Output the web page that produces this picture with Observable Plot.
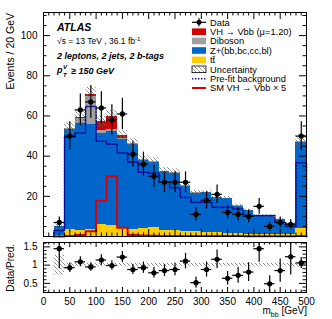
<!DOCTYPE html>
<html><head><meta charset="utf-8">
<script src="https://cdn.jsdelivr.net/npm/d3@7"></script>
<script src="https://cdn.jsdelivr.net/npm/@observablehq/plot@0.6"></script>
<style>
body{margin:0;background:#fff;}
#c{position:relative;width:332px;height:319px;font-family:"Liberation Sans",Arial,Helvetica,sans-serif;}
#c svg{position:absolute;left:0;overflow:visible;}
</style></head><body><div id="c"></div>
<script>
// ---- data ----
const binEdges = [20,40,60,80,100,120,140,160,180,200,220,240,260,280,300,320,340,360,380,400,420,440,460,480,500];
const dataCounts = [7,50,63,67,64,58,61,41,36,30,27,27,27,11,18,21,12,11,10,15,5,7,6,50];
const ttbar   = [0.3,3.5,3,3.5,6,5.5,4,3.5,4,4.5,3,3,2.5,2.5,2,2,1.5,1.5,1.2,1.2,1,1,0.8,4];
const zhf     = [4.5,50,53.3,52.3,45.3,46.9,44.5,42.3,33.9,32.5,29.2,28.6,22.4,19.1,19.7,17.2,17.3,13.6,11.7,9.1,9.3,7.4,5.6,42.9];
const diboson = [0.2,0.5,2.5,14,1.7,0.8,0.5,0.4,0.4,0.4,0.3,0.3,0.3,0.3,0.2,0.2,0.2,0.2,0.1,0.1,0.1,0.1,0.1,0.5];
const vhSig   = [0,0,0.2,1,4,6.6,1.2,0.3,0.2,0.1,0.1,0.1,0,0,0,0,0,0,0,0,0,0,0,0.1];
const prefit  = [3,49.5,51.5,64.7,47.4,46,41.6,37,32,31.5,27,24.3,19.4,17,17,14.5,14.5,13.7,10.4,10.4,10.4,7,5,36.7];
const smVH5   = [0,0.3,0.8,2.6,17.8,30,4.3,0.8,0.5,0.4,0.3,0.3,0.3,0.2,0.2,0.2,0.2,0.2,0.1,0.1,0.1,0.1,0.1,0.3];
const ratio   = [1.45,0.93,1.09,0.95,1.14,0.99,1.22,0.88,0.93,0.79,0.85,0.88,1.11,0.52,0.88,1.16,0.64,0.72,0.81,1.45,0.49,0.85,1.23,1.06];
const uncRel  = [0.28,0.05,0.05,0.05,0.05,0.05,0.05,0.05,0.05,0.05,0.05,0.05,0.05,0.05,0.05,0.05,0.05,0.05,0.05,0.05,0.05,0.05,0.05,0.07];
const xTickLabels = [0,50,100,150,200,250,300,350,400,450,500];
const yTickLabels = [20,40,60,80,100];
const rTickLabels = [0.5,1,1.5];

const colors = {tt:"#ffcc00", z:"#0066cc", vv:"#a0a0a0", vh:"#d00000", prefit:"#0a0a96", sm:"#dd0000"};

// ---- build table ----
const bins = dataCounts.map((d,i) => {
  const lo = binEdges[i], hi = binEdges[i+1];
  const c1 = ttbar[i], c2 = c1 + zhf[i], c3 = c2 + diboson[i], c4 = c3 + vhSig[i];
  return {lo, hi, c:(lo+hi)/2, data:d, c1, c2, c3, c4, unc:uncRel[i], ratio:ratio[i]};
});
function steps(vals){
  const pts = [{x:binEdges[0], y:0}];
  vals.forEach((v,i)=>{ pts.push({x:binEdges[i], y:v}); pts.push({x:binEdges[i+1], y:v}); });
  pts.push({x:binEdges[binEdges.length-1], y:0});
  return pts;
}

const W = 332, mL = 43, mR = 26, innerW = W - mL - mR;
const mainH = 240, mT = 12, mB = 4, innerH = mainH - mT - mB;
const rH = 83, rT = 6, rB = 27, rInner = rH - rT - rB;
const font = "Liberation Sans, Arial, Helvetica, sans-serif";

function ticksY(major, minor, inner){
  return [
    Plot.tickY(major, {y:d=>d, insetRight: inner - 7, stroke:"black"}),
    Plot.tickY(major, {y:d=>d, insetLeft: inner - 7, stroke:"black"}),
    Plot.tickY(minor, {y:d=>d, insetRight: inner - 3.5, stroke:"black"}),
    Plot.tickY(minor, {y:d=>d, insetLeft: inner - 3.5, stroke:"black"})
  ];
}
function ticksX(major, minor, inner, mj=7, mn=3.5){
  return [
    Plot.tickX(major, {x:d=>d, insetTop: inner - mj, stroke:"black"}),
    Plot.tickX(major, {x:d=>d, insetBottom: inner - mj, stroke:"black"}),
    Plot.tickX(minor, {x:d=>d, insetTop: inner - mn, stroke:"black"}),
    Plot.tickX(minor, {x:d=>d, insetBottom: inner - mn, stroke:"black"})
  ];
}
const xMinor = d3.range(0, 501, 10).filter(v => v % 50 !== 0);
const yMajorAll = [0,20,40,60,80,100];
const yMinor = d3.range(0, 111, 5).filter(v => v % 20 !== 0);
const rMinor = d3.range(0.3, 1.61, 0.1).map(v=>+v.toFixed(2)).filter(v => ![0.5,1,1.5].includes(v));

const crisp = {shapeRendering:"crispEdges"};
const main = Plot.plot({
  width: W, height: mainH, marginLeft: mL, marginRight: mR, marginTop: mT, marginBottom: mB,
  x: {domain:[0,500], axis:null}, y: {domain:[0,111.5], axis:null},
  style: {fontFamily: font, fontSize:"10px", background:"transparent", color:"black"},
  marks: [
    Plot.rect(bins, {x1:"lo", x2:"hi", y1:0, y2:"c1", fill:colors.tt, ...crisp}),
    Plot.rect(bins, {x1:"lo", x2:"hi", y1:"c1", y2:"c2", fill:colors.z, ...crisp}),
    Plot.rect(bins, {x1:"lo", x2:"hi", y1:"c2", y2:"c3", fill:colors.vv, ...crisp}),
    Plot.rect(bins, {x1:"lo", x2:"hi", y1:"c3", y2:"c4", fill:colors.vh, ...crisp}),
    Plot.rect(bins, {x1:"lo", x2:"hi", y1:d=>d.c4*(1-d.unc), y2:d=>d.c4*(1+d.unc), fill:"url(#hatchM)"}),
    Plot.line(steps(prefit), {x:"x", y:"y", stroke:colors.prefit, strokeWidth:1.6, strokeDasharray:"1.4,1.6"}),
    Plot.line(steps(smVH5), {x:"x", y:"y", stroke:colors.sm, strokeWidth:2}),
    Plot.ruleX(bins, {x:"c", y1:d=>d.data-Math.sqrt(d.data), y2:d=>d.data+Math.sqrt(d.data), stroke:"black", strokeWidth:1.2, clip:true}),
    Plot.ruleY(bins, {y:"data", x1:"lo", x2:"hi", stroke:"black", strokeWidth:1.2}),
    Plot.dot(bins, {x:"c", y:"data", r:2.6, fill:"black", stroke:"none"}),
    ...ticksY(yMajorAll, yMinor, innerW),
    ...ticksX(xTickLabels, xMinor, innerH),
    Plot.axisY(yTickLabels, {tickSize:0, tickPadding:6, label:null, fontSize:10}),
    Plot.frame({stroke:"black", strokeWidth:1})
  ]
});
main.style.top = "0px";

const rp = Plot.plot({
  width: W, height: rH, marginLeft: mL, marginRight: mR, marginTop: rT, marginBottom: rB,
  x: {domain:[0,500], axis:null}, y: {domain:[0.25,1.62], axis:null},
  style: {fontFamily: font, fontSize:"10px", background:"transparent", color:"black"},
  marks: [
    Plot.rect(bins, {x1:"lo", x2:"hi", y1:d=>1-d.unc, y2:d=>1+d.unc, fill:"url(#hatchR)"}),
    Plot.ruleX(bins, {x:"c", y1:d=>d.ratio-d.ratio/Math.sqrt(d.data), y2:d=>d.ratio+d.ratio/Math.sqrt(d.data), stroke:"black", strokeWidth:1.2, clip:true}),
    Plot.ruleY(bins, {y:"ratio", x1:"lo", x2:"hi", stroke:"black", strokeWidth:1.2}),
    Plot.dot(bins, {x:"c", y:"ratio", r:2.6, fill:"black", stroke:"none"}),
    ...ticksY(rTickLabels, rMinor, innerW),
    ...ticksX(xTickLabels, xMinor, rInner, 5, 2.5),
    Plot.axisY(rTickLabels, {tickSize:0, tickPadding:6, label:null, fontSize:10, tickFormat:d=>String(d)}),
    Plot.axisX(xTickLabels, {tickSize:0, tickPadding:5, label:null, fontSize:10, tickFormat:d=>String(d)}),
    Plot.frame({stroke:"black", strokeWidth:1})
  ]
});
rp.style.top = "236px";

function addHatch(svg, id){
  const ns = "http://www.w3.org/2000/svg";
  const defs = document.createElementNS(ns, "defs");
  defs.innerHTML = `<pattern id="${id}" patternUnits="userSpaceOnUse" width="4" height="4">
    <path d="M-1,-1 L1,1 M0,0 L4,4 M3,3 L5,5" stroke="#6a6a6a" stroke-width="0.55"/></pattern>`;
  svg.insertBefore(defs, svg.firstChild);
}
addHatch(main, "hatchM");
addHatch(rp, "hatchR");

const root = document.getElementById("c");
root.appendChild(main);
root.appendChild(rp);

// ---- annotations & legend overlay ----
const ov = d3.select(root).append("svg").attr("width", W).attr("height", 319)
  .style("top","0px").style("pointer-events","none").attr("font-family", font);

ov.append("text").attr("transform","translate(13.5,13) rotate(-90)").attr("text-anchor","end")
  .attr("font-size",10.5).text("Events / 20 GeV");
ov.append("text").attr("transform","translate(13.5,244) rotate(-90)").attr("text-anchor","end")
  .attr("font-size",10).text("Data/Pred.");
const xt = ov.append("text").attr("x",307).attr("y",314).attr("text-anchor","end").attr("font-size",10);
xt.append("tspan").text("m");
xt.append("tspan").attr("font-size",7).attr("dy",2.5).text("bb");
xt.append("tspan").attr("dy",-2.5).text(" [GeV]");

ov.append("text").attr("x",57).attr("y",30.7).attr("font-size",10.5).attr("font-weight","bold").attr("font-style","italic").text("ATLAS");
const rs = ov.append("text").attr("x",57).attr("y",44).attr("font-size",8.5);
rs.append("tspan").text("√s = 13 TeV , 36.1 fb");
rs.append("tspan").attr("font-size",6).attr("dy",-3.5).text("-1");
ov.append("text").attr("x",57).attr("y",59).attr("font-size",9).attr("font-weight","bold").attr("font-style","italic").text("2 leptons, 2 jets, 2 b-tags");
const g = ov.append("g").attr("font-size",9).attr("font-weight","bold").attr("font-style","italic");
g.append("text").attr("x",57).attr("y",73).text("p");
g.append("text").attr("x",63).attr("y",68.5).attr("font-size",6).text("V");
g.append("text").attr("x",63).attr("y",76.5).attr("font-size",6).text("T");
g.append("text").attr("x",71).attr("y",74).text("≥ 150 GeV");

// legend
const lx0 = 192, lx1 = 206, tx = 210, fs = 9.3;
const rows = [
  {y:22.3, label:"Data", kind:"data"},
  {y:31.7, label:"VH → Vbb (μ=1.20)", kind:"box", color:colors.vh},
  {y:41.0, label:"Diboson", kind:"box", color:colors.vv},
  {y:50.5, label:"Z+(bb,bc,cc,bl)", kind:"box", color:colors.z},
  {y:59.9, label:"tt̄", kind:"box", color:colors.tt},
  {y:69.3, label:"Uncertainty", kind:"hatch"},
  {y:78.7, label:"Pre-fit background", kind:"dotted"},
  {y:88.0, label:"SM VH → Vbb × 5", kind:"line"}
];
rows.forEach(r => {
  if (r.kind === "data") {
    ov.append("line").attr("x1",lx0).attr("x2",lx1).attr("y1",r.y).attr("y2",r.y).attr("stroke","black").attr("stroke-width",1.2);
    ov.append("line").attr("x1",(lx0+lx1)/2).attr("x2",(lx0+lx1)/2).attr("y1",r.y-4).attr("y2",r.y+4).attr("stroke","black").attr("stroke-width",1.2);
    ov.append("circle").attr("cx",(lx0+lx1)/2).attr("cy",r.y).attr("r",2.5).attr("fill","black");
  } else if (r.kind === "box") {
    ov.append("rect").attr("x",lx0).attr("y",r.y-3.3).attr("width",lx1-lx0).attr("height",6.6).attr("fill",r.color);
  } else if (r.kind === "hatch") {
    ov.append("rect").attr("x",lx0).attr("y",r.y-3.3).attr("width",lx1-lx0).attr("height",6.6).attr("fill","url(#hatchM)").attr("stroke","black").attr("stroke-width",0.8);
  } else if (r.kind === "dotted") {
    ov.append("line").attr("x1",lx0).attr("x2",lx1).attr("y1",r.y).attr("y2",r.y).attr("stroke",colors.prefit).attr("stroke-width",1.6).attr("stroke-dasharray","1.4,1.6");
  } else {
    ov.append("line").attr("x1",lx0).attr("x2",lx1).attr("y1",r.y).attr("y2",r.y).attr("stroke",colors.sm).attr("stroke-width",2);
  }
  ov.append("text").attr("x",tx).attr("y",r.y+3.3).attr("font-size",fs).text(r.label);
});
</script></body></html>
